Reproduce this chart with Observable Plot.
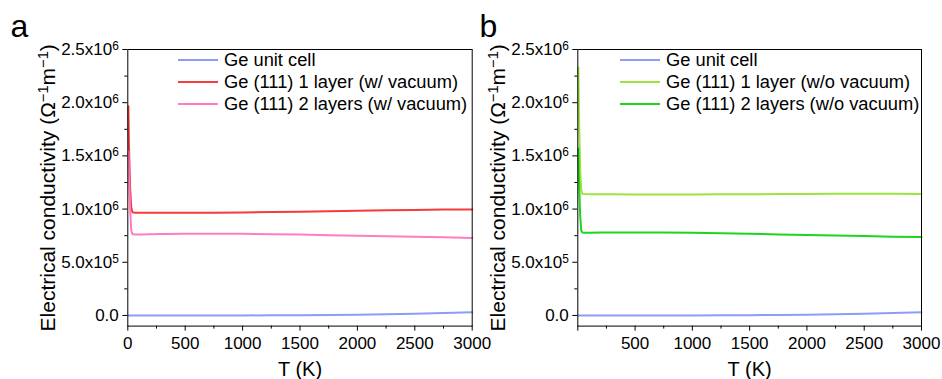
<!DOCTYPE html>
<html>
<head>
<meta charset="utf-8">
<script src="https://cdn.jsdelivr.net/npm/d3@7"></script>
<script src="https://cdn.jsdelivr.net/npm/@observablehq/plot@0.6"></script>
<style>
  body { margin: 0; background: white; }
  #wrap { position: relative; width: 942px; height: 379px; font-family: "Liberation Sans", Arial, sans-serif; }
  .panel { position: absolute; top: 0; }
</style>
</head>
<body>
<div id="wrap"></div>
<script>
// ---------- data ----------
const T = [5, 10, 20, 30, 40, 60, 100, 200, 300, 500, 750, 1000, 1250, 1500, 1750, 2000, 2250, 2500, 2750, 3000];
const unitCell = [0, 0, 0, 0, 0, 0, 0, 0, 0, 0, 100, 500, 1200, 2500, 4500, 7500, 11500, 16500, 23000, 31000];
const oneLayerVac = [1.966e6, 1.6e6, 1.2e6, 1.02e6, 0.97e6, 0.966e6, 0.965e6, 0.965e6, 0.965e6, 0.965e6, 0.966e6, 0.968e6, 0.972e6, 0.976e6, 0.98e6, 0.984e6, 0.988e6, 0.992e6, 0.995e6, 0.997e6];
const twoLayersVac = [1.54e6, 1.3e6, 1.0e6, 0.8e6, 0.765e6, 0.762e6, 0.762e6, 0.763e6, 0.765e6, 0.767e6, 0.768e6, 0.767e6, 0.764e6, 0.76e6, 0.755e6, 0.75e6, 0.745e6, 0.74e6, 0.735e6, 0.728e6];
const oneLayerNoVac = [2.33e6, 1.9e6, 1.4e6, 1.18e6, 1.143e6, 1.141e6, 1.14e6, 1.14e6, 1.139e6, 1.138e6, 1.138e6, 1.138e6, 1.139e6, 1.14e6, 1.141e6, 1.142e6, 1.143e6, 1.143e6, 1.143e6, 1.142e6];
const twoLayersNoVac = [1.57e6, 1.3e6, 0.95e6, 0.8e6, 0.78e6, 0.778e6, 0.778e6, 0.779e6, 0.78e6, 0.78e6, 0.779e6, 0.777e6, 0.773e6, 0.768e6, 0.762e6, 0.757e6, 0.751e6, 0.746e6, 0.741e6, 0.737e6];

const yMajor = [0, 5e5, 1e6, 1.5e6, 2e6, 2.5e6];
const yMajorLabels = ["0.0", "5.0x10⁵", "1.0x10⁶", "1.5x10⁶", "2.0x10⁶", "2.5x10⁶"];
const yMinor = [2.5e5, 7.5e5, 1.25e6, 1.75e6, 2.25e6];
const xMajor = [0, 500, 1000, 1500, 2000, 2500, 3000];
const xMinor = [250, 750, 1250, 1750, 2250, 2750];
const xLabelsA = ["0", "500", "1000", "1500", "2000", "2500", "3000"];
const xLabelsB = ["", "500", "1000", "1500", "2000", "2500", "3000"];

const panelNames = ["a", "b"];
const legendA = ["Ge unit cell", "Ge (111) 1 layer (w/ vacuum)", "Ge (111) 2 layers (w/ vacuum)"];
const legendB = ["Ge unit cell", "Ge (111) 1 layer (w/o vacuum)", "Ge (111) 2 layers (w/o vacuum)"];
const colorsA = ["#8d9cf7", "#f53b3b", "#ff7cc3"];
const colorsB = ["#8d9cf7", "#9de43e", "#1fd41b"];
const yTitle = "Electrical conductivity (Ω⁻¹m⁻¹)";
const xTitle = "T (K)";

// ---------- helpers ----------
const supMap = {"⁰":"0","¹":"1","²":"2","³":"3","⁴":"4","⁵":"5","⁶":"6","⁷":"7","⁸":"8","⁹":"9","⁻":"−"};
function superscriptify(svg) {
  d3.select(svg).selectAll("text").each(function() {
    const el = this;
    if (el.querySelector("tspan")) return;
    const s = el.textContent;
    if (![...s].some(c => supMap[c])) return;
    const runs = [];
    for (const c of s) {
      const sup = !!supMap[c];
      const ch = sup ? supMap[c] : c;
      if (runs.length && runs[runs.length - 1].sup === sup) runs[runs.length - 1].t += ch;
      else runs.push({sup, t: ch});
    }
    el.textContent = "";
    let prevSup = false;
    for (const r of runs) {
      const ts = d3.select(el).append("tspan").text(r.t);
      if (r.sup) { ts.attr("dy", "-0.42em").attr("font-size", "0.7em"); }
      else if (prevSup) { ts.attr("dy", "0.294em"); }
      prevSup = r.sup;
    }
  });
}

function makePanel({series, colors, legend, xLabels, name, width, marginLeft, marginRight, left, legendX, nameX}) {
  const rows = [];
  series.forEach((vals, k) => vals.forEach((v, i) => rows.push({T: T[i], v, k})));
  const xLabMap = new Map(xMajor.map((d, i) => [d, xLabels[i]]));
  const yLabMap = new Map(yMajor.map((d, i) => [d, yMajorLabels[i]]));
  const svg = Plot.plot({
    width, height: 379,
    marginLeft, marginRight, marginTop: 49, marginBottom: 53.4,
    x: {domain: [0, 3000]},
    y: {domain: [-1e5, 2.5e6]},
    style: {fontFamily: "'Liberation Sans', Arial, sans-serif", fontSize: "17px", color: "black", overflow: "visible"},
    marks: [
      Plot.axisY(yMajor, {tickSize: 5, tickPadding: 4, tickFormat: d => yLabMap.get(d), label: null, stroke: "black", strokeOpacity: 1, fontSize: 17}),
      Plot.axisY(yMinor, {tickSize: 3, tickFormat: () => "", label: null, stroke: "black", strokeOpacity: 1}),
      Plot.axisX(xMajor, {tickSize: 5, tickPadding: 6, tickFormat: d => xLabMap.get(d), label: null, stroke: "black", strokeOpacity: 1, fontSize: 17}),
      Plot.axisX(xMinor, {tickSize: 3, tickFormat: () => "", label: null, stroke: "black", strokeOpacity: 1}),
      ...series.map((vals, k) => Plot.line(rows.filter(r => r.k === k), {x: "T", y: "v", stroke: colors[k], strokeWidth: 2})),
      Plot.frame({stroke: "black", strokeWidth: 1}),
      Plot.text([yTitle], {frameAnchor: "left", textAnchor: "middle", lineAnchor: "middle", dx: -80, rotate: -90, fontSize: 21}),
      Plot.text([xTitle], {frameAnchor: "bottom", textAnchor: "middle", lineAnchor: "middle", dy: 43.4, fontSize: 20}),
      Plot.text([name], {frameAnchor: "top-left", textAnchor: "start", lineAnchor: "middle", dx: nameX - marginLeft, dy: -22.6, fontSize: 32})
    ]
  });
  superscriptify(svg);
  // legend (inside the frame, top)
  const g = d3.select(svg).append("g").attr("font-size", 18.3).attr("text-anchor", "start")
    .attr("font-family", "'Liberation Sans', Arial, sans-serif");
  const rowY = [60, 82, 104];
  legend.forEach((lab, k) => {
    g.append("line").attr("x1", legendX).attr("x2", legendX + 40).attr("y1", rowY[k]).attr("y2", rowY[k])
      .attr("stroke", colors[k]).attr("stroke-width", 2);
    g.append("text").attr("x", legendX + 46).attr("y", rowY[k]).attr("dy", "0.35em")
      .attr("text-anchor", "start").attr("fill", "black").text(lab);
  });
  const div = document.createElement("div");
  div.className = "panel";
  div.style.left = left + "px";
  div.style.width = width + "px";
  div.appendChild(svg);
  return div;
}

const wrap = document.getElementById("wrap");
wrap.appendChild(makePanel({
  series: [unitCell, oneLayerVac, twoLayersVac], colors: colorsA, legend: legendA, xLabels: xLabelsA, name: panelNames[0],
  width: 472, marginLeft: 127.3, marginRight: 0.3, left: 0, legendX: 178, nameX: 10
}));
wrap.appendChild(makePanel({
  series: [unitCell, oneLayerNoVac, twoLayersNoVac], colors: colorsB, legend: legendB, xLabels: xLabelsB, name: panelNames[1],
  width: 471, marginLeft: 106.3, marginRight: 21, left: 471, legendX: 149, nameX: 8
}));
</script>
</body>
</html>
